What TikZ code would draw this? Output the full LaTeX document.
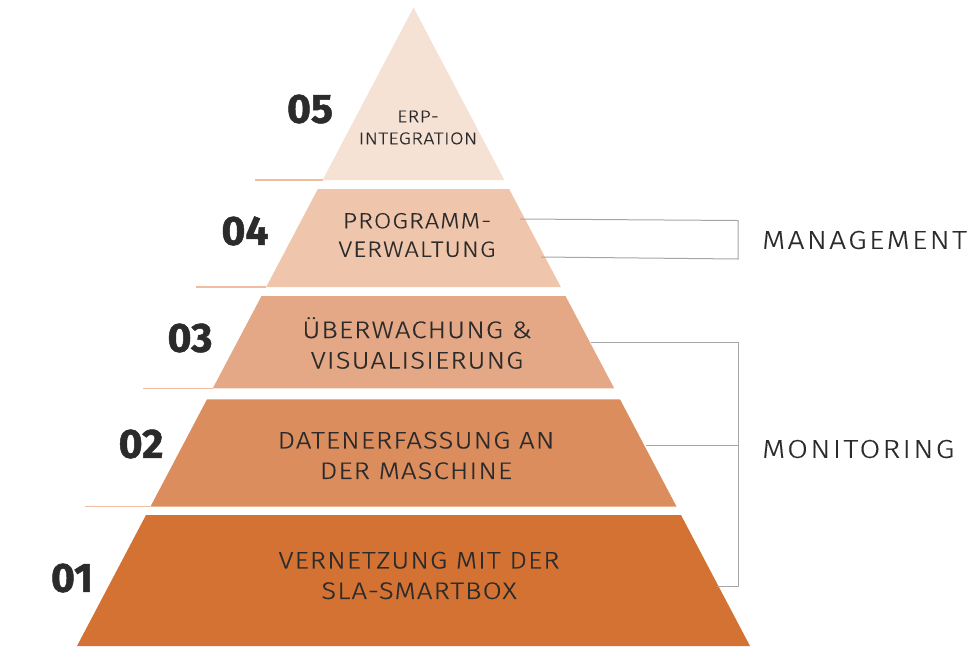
\documentclass[tikz,border=0pt]{standalone}
\usepackage{fontspec}
\newfontfamily\dinf{Fira Sans Light}[FakeStretch=1.15, LetterSpace=4.5, FakeBold=0.3]
\newfontfamily\dinsmall{Fira Sans Light}[FakeStretch=1.15, LetterSpace=2.8, FakeBold=0.3]
\newfontfamily\dinside{Fira Sans Light}[FakeStretch=1.15, LetterSpace=9, FakeBold=0.3]
\newfontfamily\numf{Fira Sans Bold}[FakeBold=1.2]
\definecolor{lvA}{HTML}{D37233}
\definecolor{lvB}{HTML}{DB8D5D}
\definecolor{lvC}{HTML}{E4A886}
\definecolor{lvD}{HTML}{EFC6AB}
\definecolor{lvE}{HTML}{F5E2D5}
\definecolor{txt}{HTML}{2B2B2B}
\definecolor{brk}{HTML}{A6A6A6}
\definecolor{thin}{HTML}{EEBE9E}
\tikzset{
  lvtext/.style={align=center, text=txt, inner sep=0pt, font=\fontsize{24}{30.5}\selectfont\dinf},
  midtext/.style={align=center, text=txt, inner sep=0pt, font=\fontsize{22}{28.5}\selectfont\dinf},
  smalltext/.style={align=center, text=txt, inner sep=0pt, font=\fontsize{17}{22}\selectfont\dinsmall},
  numtext/.style={text=txt, inner sep=0pt, font=\fontsize{41}{41}\selectfont\numf},
  sidetext/.style={anchor=west, text=txt, inner sep=0pt, font=\fontsize{26}{26}\selectfont\dinside},
  bracket/.style={draw=brk, line width=1pt},
  thinline/.style={draw=thin, line width=1.4pt}
}
\begin{document}
\begin{tikzpicture}[x=1pt, y=-1pt]
\useasboundingbox (0,0) rectangle (977,646);
% pyramid levels
\fill[lvE] (413.5,7.5) -- (504.4,180) -- (322.6,180) -- cycle;
\fill[lvD] (317.85,189) -- (509.15,189) -- (560.8,287) -- (266.2,287) -- cycle;
\fill[lvC] (261.5,296) -- (565.5,296) -- (614.2,388.3) -- (212.8,388.3) -- cycle;
\fill[lvB] (207,399.3) -- (620,399.3) -- (676.6,506.7) -- (150.4,506.7) -- cycle;
\fill[lvA] (146,515) -- (681,515) -- (750,646) -- (77,646) -- cycle;
% thin lines to the left of each level
\draw[thinline] (255,180) -- (322.6,180);
\draw[thinline] (196,287) -- (266.2,287);
\draw[thinline] (143,388.3) -- (212.8,388.3);
\draw[thinline] (85,506.7) -- (150.4,506.7);
% level texts
\node[smalltext] (t5) at (418,127.5) {ERP-\\INTEGRATION};
\node[midtext] (t4) at (417,235) {PROGRAMM-\\VERWALTUNG};
\node[lvtext] (t3) at (417,343) {ÜBERWACHUNG \&\\VISUALISIERUNG};
\node[lvtext] (t2) at (416,455.5) {DATENERFASSUNG AN\\DER MASCHINE};
\node[lvtext] (t1) at (419,575.5) {VERNETZUNG MIT DER\\SLA-SMARTBOX};
% numbers
\node[numtext] (n5) at (310,109) {05};
\node[numtext] (n4) at (245,231) {04};
\node[numtext] (n3) at (190,338) {03};
\node[numtext] (n2) at (141,444) {02};
\node[numtext] (n1) at (72,578) {01};
% side labels
\node[sidetext] (mgmt) at (762,240) {MANAGEMENT};
\node[sidetext] (mon) at (762,449) {MONITORING};
% brackets
\coordinate (m1) at (520,219);
\coordinate (m2) at (738,220.5);
\coordinate (m3) at (738,259);
\coordinate (m4) at (541,257);
\draw[bracket] (m1) -- (m2) -- (m3) -- (m4);
\coordinate (o1) at (591,342.7);
\coordinate (o2) at (738,342.7);
\coordinate (o3) at (738,586);
\coordinate (o4) at (717,586);
\coordinate (o5) at (646,445.7);
\coordinate (o6) at (738,445.7);
\draw[bracket] (o1) -- (o2) -- (o3) -- (o4);
\draw[bracket] (o5) -- (o6);
\end{tikzpicture}
\end{document}
